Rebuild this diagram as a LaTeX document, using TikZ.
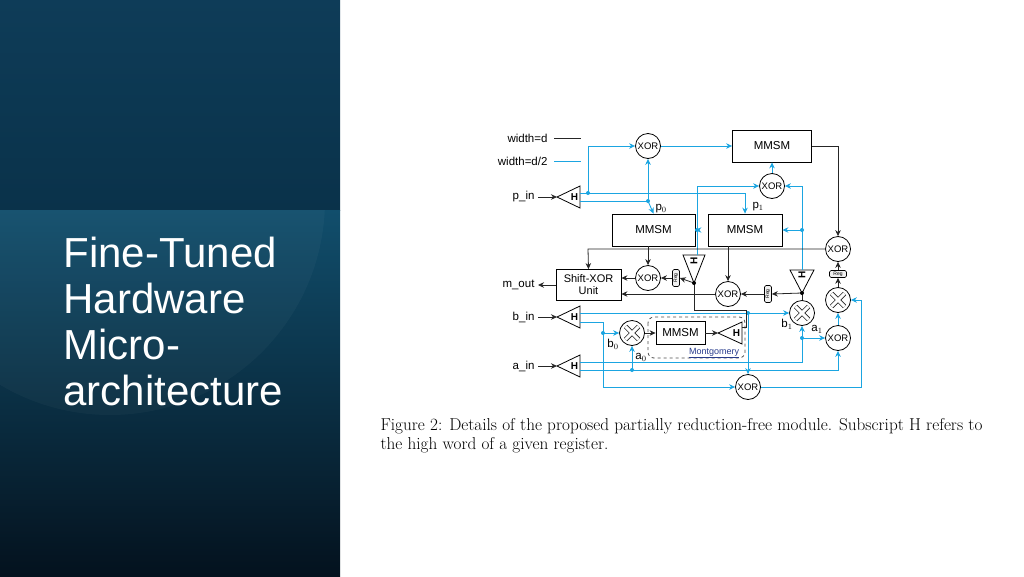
\documentclass[tikz,border=0pt]{standalone}
\usepackage{fontspec}
\setmainfont{Liberation Sans}
\usetikzlibrary{arrows.meta,calc}
\definecolor{lb}{RGB}{27,165,225}
\definecolor{monblue}{RGB}{40,60,140}
\begin{document}
\begin{tikzpicture}[x=1pt,y=-1pt,
  every node/.style={font=\fontsize{11.5}{12}\selectfont},
  bl/.style={draw=lb,line width=0.9pt},
  kl/.style={draw=black!85,line width=0.8pt},
  ar/.style={-{Stealth[length=6pt,width=5.5pt]}},
  xorn/.style={circle,draw,line width=0.8pt,minimum size=25pt,inner sep=0pt,font=\fontsize{9.5}{9}\selectfont},
  mulx/.style={circle,draw,line width=0.8pt,minimum size=25pt,inner sep=0pt},
  boxn/.style={draw,line width=0.8pt,inner sep=0pt},
  regn/.style={draw,rounded corners=1.5pt,line width=0.6pt,minimum width=7pt,minimum height=17pt,inner sep=0pt,fill=black!6},
  dotb/.style={circle,fill=lb,inner sep=0pt,minimum size=4pt},
  dotk/.style={circle,fill=black,inner sep=0pt,minimum size=4pt},
  tri/.style={draw,line width=0.8pt},
  hl/.style={font=\bfseries\fontsize{10}{9}\selectfont}]
\useasboundingbox (0,0) rectangle (1024,576);
% left panel
\shade[top color={rgb,255:red,14;green,60;blue,88},bottom color={rgb,255:red,10;green,50;blue,74}] (0,0) rectangle (340,210);
\shade[top color={rgb,255:red,17;green,78;blue,108},bottom color={rgb,255:red,4;green,18;blue,30}] (0,210) rectangle (340,576);
\begin{scope}
\clip (0,210) rectangle (340,576);
\fill[white,opacity=0.03] (110,200) circle (215);
\end{scope}
\node[anchor=north west,text=white,align=left,font=\fontsize{42}{46}\selectfont] (title) at (60,234) {Fine-Tuned\\Hardware\\Micro-\\architecture};
% legend
\node[anchor=east] (lgd) at (551,138) {width=d};
\node[anchor=east] (lgh) at (551,161) {width=d/2};
\draw[kl] (lgd.east)++(3,0) -- ++(27,0);
\draw[bl] (lgh.east)++(3,0) -- ++(27,0);
% nodes
\node[xorn] (xt) at (648,146) {XOR};
\node[boxn,minimum width=79pt,minimum height=32pt] (mt) at (772,146) {MMSM};
\node[xorn] (xm) at (772,186) {XOR};
\node[boxn,minimum width=83pt,minimum height=32pt] (m0) at (653.5,230) {MMSM};
\node[boxn,minimum width=74pt,minimum height=32pt] (m1) at (745,230) {MMSM};
\node[xorn] (xr1) at (838,249) {XOR};
\node[boxn,minimum width=65pt,minimum height=31pt,align=center,font=\fontsize{11}{12}\selectfont] (sx) at (588.5,285) {Shift-XOR\\Unit};
\node[xorn] (xa) at (648,278) {XOR};
\node[regn] (rega) at (676,278) {};
\node[rotate=90,font=\fontsize{5}{5}\selectfont] at (rega) {Reg};
\node[xorn] (xb) at (728,294) {XOR};
\node[regn] (regb) at (768,294) {};
\node[rotate=90,font=\fontsize{5}{5}\selectfont] at (regb) {Reg};
\node[mulx] (mb1) at (802,313) {};
\node[mulx] (mr) at (838,300) {};
\node[mulx] (mb0) at (632,333) {};
\node[xorn] (xr2) at (838,338) {XOR};
\node[regn,minimum width=17pt,minimum height=7pt] (regr) at (838,274) {};
\node[font=\fontsize{5}{5}\selectfont] at (regr) {Reg};
\node[boxn,minimum width=49pt,minimum height=23pt] (mm) at (680.5,333) {MMSM};
\node[xorn] (xbot) at (748,387) {XOR};
\foreach \m in {mb1,mr,mb0}{
  \draw[line width=4.6pt,black!85] ($(\m)+(-6.5,-6.5)$)--($(\m)+(6.5,6.5)$) ($(\m)+(-6.5,6.5)$)--($(\m)+(6.5,-6.5)$);
  \draw[line width=3pt,white] ($(\m)+(-6.5,-6.5)$)--($(\m)+(6.5,6.5)$) ($(\m)+(-6.5,6.5)$)--($(\m)+(6.5,-6.5)$);
}
% triangles
\coordinate (pt) at (557,197); \coordinate (bt) at (557,317); \coordinate (at) at (557,366);
\foreach \t in {pt,bt,at}{
  \draw[tri] (\t) -- ++(23,-11) -- ++(0,22) -- cycle;
  \node[hl] at ($(\t)+(17.5,0)$) {H};
}
\coordinate (mont) at (718,333);
\draw[tri] (mont) -- ++(24,-11) -- ++(0,22) -- cycle;
\node[hl] at ($(mont)+(18.5,0)$) {H};
\coordinate (ua) at (694,283); \coordinate (ub) at (802,293);
\draw[tri] (ua) -- ++(-11,-28) -- ++(22,0) -- cycle;
\node[hl,rotate=90] at ($(ua)+(0,-22)$) {H};
\draw[tri] (ub) -- ++(-12,-23) -- ++(24,0) -- cycle;
\node[hl,rotate=90] at ($(ub)+(0,-18)$) {H};
% dashed montgomery box
\draw[dashed,line width=0.8pt,draw=black!70,rounded corners=6pt] (648,317) rectangle (745,358);
\node[text=monblue,font=\fontsize{9}{8}\selectfont] (montl) at (714,353) {\underline{Montgomery}};
% inputs/outputs
\node[anchor=east] (pin) at (538,197) {p\_in};
\node[anchor=east] (bin) at (538,317) {b\_in};
\node[anchor=east] (ain) at (538,366) {a\_in};
\node[anchor=east] (mout) at (538,285) {m\_out};
\draw[kl,ar] (pin.east) -- (pt);
\draw[kl,ar] (bin.east) -- (bt);
\draw[kl,ar] (ain.east) -- (at);
\draw[kl,ar] (sx.west) -- (mout.east);
% blue connectors
\coordinate (d1) at (588,193); \coordinate (d2) at (648,201);
\draw[bl] (580,193) -- (745,193);
\draw[bl,ar] (745,193) -- (m1.north-|745,0);
\draw[bl,ar] (d1) |- (xt.west);
\draw[bl] (580,201) -- (d2);
\draw[bl,ar] (d2) -- (xt.south);
\draw[bl,ar] (d2) -- (m0.north);
\node[dotb] at (d1) {}; \node[dotb] at (d2) {};
\node[anchor=west] at (652,209) {p$_0$};
\node[anchor=west] at (749,207) {p$_1$};
\draw[bl,ar] (xt.east) -- (mt.west);
\draw[bl,ar] (xm.north) -- (mt.south);
\coordinate (d3) at (697,230); \coordinate (d4) at (802,230);
\draw[bl,ar] (697,255) -- (697,186) -- (xm.west);
\draw[bl,ar] (d3) -- (m0.east);
\draw[bl,ar] (802,270) -- (802,186) -- (xm.east);
\draw[bl,ar] (d4) -- (m1.east);
\node[dotb] at (d3) {}; \node[dotb] at (d4) {};
% b_in
\coordinate (d5) at (748,313); \coordinate (d6) at (603,333);
\draw[bl,ar] (580,313) -- (mb1.west);
\draw[bl,ar] (d5) -- (xbot.north);
\draw[bl,ar] (580,322) -- (603,322) |- (xbot.west);
\draw[bl,ar] (d6) -- (mb0.west);
\node[dotb] at (d5) {}; \node[dotb] at (d6) {};
% a_in
\coordinate (d7) at (802,338); \coordinate (d8) at (632,370);
\draw[bl] (580,362) -- (802,362) -- (d7);
\draw[bl,ar] (d7) -- (mb1.south);
\draw[bl,ar] (d7) -- (xr2.west);
\draw[bl,ar] (580,370) -- (838,370) -- (xr2.south);
\draw[bl,ar] (d8) -- (mb0.south);
\node[dotb] at (d7) {}; \node[dotb] at (d8) {};
\node at (613,344) {b$_0$};
\node at (641,357) {a$_0$};
\node at (787,324) {b$_1$};
\node at (817,329) {a$_1$};
\draw[bl,ar] (xr2.north) -- (mr.south);
\draw[bl,ar] (xbot.east) -- (861,387) -- (861,300) -- (mr.east);
% black connectors
\draw[kl,ar] (mt.east) -- (838,146) -- (xr1.north);
\draw[kl,ar] (xr1.west) -- (588,249) -- (sx.north);
\draw[kl,ar] (m0.south-|xa) -- (xa.north);
\draw[kl,ar] (m1.south-|xb) -- (xb.north);
\draw[kl,ar] (ua) -- (rega.east);
\draw[kl,ar] (rega.west) -- (xa.east);
\draw[kl,ar] (xa.west) -- (sx.east|-xa);
\draw[kl,ar] (ub) -- (regb.east);
\draw[kl,ar] (regb.west) -- (xb.east);
\draw[kl,ar] (xb.west) -- (sx.east|-xb);
\draw[kl] (mb1.north) -- (ub);
\draw[kl] (742,327) -- (746,327) -- (746,310) -- (694,310) -- (ua);
\node[dotk] at (ua) {}; \node[dotk] at (ub) {};
\draw[kl,ar] (mr.north) -- (regr.south);
\draw[kl,ar] (regr.north) -- (xr1.south);
\draw[kl,ar] (mb0.east) -- (mm.west);
\draw[kl,ar] (mm.east) -- (mont);
% caption
\node[anchor=north west,align=left,font=\fontfamily{lmr}\selectfont\fontsize{17.2}{19}\selectfont] (cap) at (377,415) {Figure 2: Details of the proposed partially reduction-free module. Subscript H refers to\\the high word of a given register.};
\end{tikzpicture}
\end{document}
